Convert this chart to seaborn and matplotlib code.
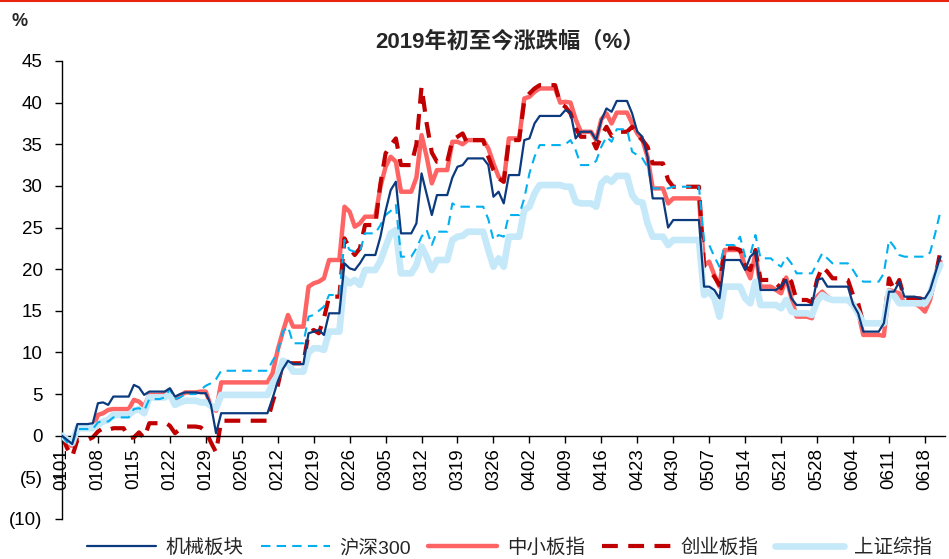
import matplotlib
matplotlib.use('Agg')
import matplotlib.pyplot as plt
import matplotlib.dates as mdates
from matplotlib.lines import Line2D
from matplotlib.ticker import FuncFormatter, MultipleLocator
import seaborn as sns
import pandas as pd

sns.set_style('white')
plt.rcParams['font.family'] = ['Liberation Sans', 'Noto Sans CJK SC', 'DejaVu Sans']

# trading days 2019 (0101 is the base), closed days carry the last close
holidays = ['2019-02-04', '2019-02-05', '2019-02-06', '2019-02-07', '2019-02-08',
            '2019-04-05', '2019-05-01', '2019-05-02', '2019-05-03', '2019-06-07']
trade_days = pd.bdate_range('2019-01-01', '2019-06-21').drop(pd.to_datetime(holidays))

# cumulative change since start of year, %
jixie = [0, -0.5, -1.0, 1.4, 1.5, 3.9, 4.0, 3.7, 4.7, 4.7, 6.1, 5.8, 4.9, 5.3, 5.3, 5.7, 4.7, 5.0, 5.2, 5.1, 5.1, 3.7, 0.3,
         2.7, 4.5, 6.5, 8.0, 9.0, 8.6, 12.3, 12.5, 12.7, 12.1, 14.7, 20.7, 20.1, 19.9, 20.7,
         21.7, 23.9, 27.0, 29.5, 30.5, 24.3, 25.5, 31.5, 29.0, 26.5, 28.9, 31.0, 32.3, 32.5, 33.3, 33.3, 32.5, 28.7, 29.3, 27.9, 31.3,
         35.5, 35.7, 37.5, 38.4, 38.4, 39.1, 38.8, 35.7, 36.5, 35.5, 37.9, 39.3, 38.9, 40.2, 38.7, 36.5, 35.9, 33.5, 28.5, 25.0, 25.9,
         17.9, 17.9, 17.5, 16.5, 21.1, 21.1, 19.9, 21.5, 22.1, 17.5, 17.5, 18.0, 18.7, 16.5, 15.7, 15.7, 18.7, 18.9, 17.9, 17.9,
         17.9, 15.8, 14.7, 12.5, 13.5, 17.3, 17.3, 18.5, 16.7, 16.5, 16.5, 17.5, 19.5, 21.5]
hs300 = [0, -0.8, -1.0, 0.8, 0.8, 1.6, 1.8, 1.7, 2.2, 2.2, 3.2, 3.3, 3.0, 4.4, 4.6, 5.6, 4.4, 4.6, 5.0, 5.5, 6.0, 6.3, 6.8,
         7.8, 9.0, 10.0, 12.5, 13.1, 11.1, 14.3, 14.5, 15.0, 15.5, 16.9, 23.5, 22.3, 22.1, 22.1,
         24.3, 25.3, 26.5, 27.0, 27.7, 21.5, 22.5, 23.9, 24.7, 22.9, 24.5, 27.9, 27.5, 27.5, 27.5, 27.5, 26.0, 23.5, 24.1, 23.9, 26.5,
         28.5, 31.5, 33.5, 34.9, 34.9, 35.0, 35.5, 34.3, 32.5, 33.0, 34.7, 35.9, 35.3, 36.8, 34.1, 33.7, 33.3, 32.3, 29.7, 29.7, 29.9,
         23.5, 22.9, 21.5, 20.3, 22.9, 23.9, 21.5, 21.7, 24.1, 21.3, 20.7, 20.3, 21.5, 20.7, 19.5, 19.5, 20.7, 21.9, 21.3, 20.7,
         20.7, 19.9, 18.9, 18.5, 19.5, 23.5, 22.7, 21.7, 21.5, 21.5, 21.5, 22.0, 24.3, 26.9]
zxb = [0, -1.1, -1.2, 0.9, 0.9, 2.5, 2.7, 3.1, 3.2, 3.2, 4.3, 4.1, 3.5, 4.9, 5.0, 5.5, 4.3, 4.8, 5.2, 5.3, 5.3, 3.5, 3.0,
       6.4, 7.5, 10.3, 12.5, 14.5, 13.1, 17.9, 18.3, 18.5, 18.9, 21.1, 27.5, 26.9, 25.1, 25.5,
       26.3, 29.9, 32.3, 33.5, 32.9, 29.3, 31.0, 36.1, 33.5, 30.3, 31.9, 35.3, 35.3, 35.0, 35.5, 35.5, 34.5, 32.7, 31.1, 30.5, 35.7,
       40.5, 40.7, 41.3, 41.7, 40.0, 40.1, 40.0, 38.0, 36.5, 35.5, 38.0, 38.7, 37.5, 38.8, 37.5, 36.3, 35.5, 33.5, 29.7, 27.9, 28.5,
       20.5, 20.9, 19.3, 17.9, 22.3, 22.3, 20.3, 18.9, 21.9, 17.9, 17.5, 17.1, 19.0, 16.5, 14.3, 14.1, 16.7, 17.3, 16.7, 16.3,
       16.3, 15.9, 14.8, 12.1, 12.0, 17.5, 17.3, 17.1, 15.9, 15.5, 14.9, 16.3, 19.1, 20.9]
cyb = [0, -1.5, -2.5, -0.5, -0.2, 0.5, 0.9, 0.7, 0.9, -0.3, -0.2, 0.4, -0.3, 1.5, 1.6, 1.2, 0.3, 0.8, 1.1, 1.0, 0.5, -0.8, -2.0,
       1.8, 4.0, 6.0, 8.7, 8.7, 8.7, 12.3, 12.7, 12.3, 14.1, 16.7, 23.7, 22.5, 21.7, 22.5,
       25.3, 30.3, 33.9, 34.9, 35.7, 32.5, 35.0, 41.9, 37.5, 34.0, 32.9, 35.5, 35.9, 36.3, 35.0, 35.5, 33.5, 31.9, 30.9, 30.5, 35.5,
       40.3, 41.1, 41.7, 42.1, 39.9, 39.5, 38.7, 36.9, 35.9, 34.5, 36.0, 37.1, 36.0, 36.5, 37.1, 36.1, 35.5, 34.7, 32.7, 30.7, 29.9,
       20.3, 19.9, 19.1, 18.1, 22.5, 22.3, 20.3, 19.9, 22.3, 18.7, 18.3, 17.7, 19.3, 18.5, 16.3, 16.0, 18.7, 20.3, 19.7, 18.9,
       18.7, 16.9, 15.9, 13.5, 13.5, 18.9, 17.5, 18.7, 16.5, 16.5, 16.3, 16.5, 19.0, 22.1]
szzz = [0, -0.5, -0.9, 0.9, 0.9, 1.3, 1.7, 1.9, 2.5, 2.5, 3.0, 3.2, 2.7, 4.6, 4.6, 5.0, 3.7, 4.0, 4.2, 4.0, 4.0, 3.6, 3.3,
        4.9, 6.3, 7.2, 9.0, 8.7, 7.7, 10.0, 10.5, 10.5, 10.3, 12.5, 18.9, 18.3, 18.7, 18.1,
        19.9, 21.0, 22.7, 24.3, 24.7, 19.5, 20.5, 22.7, 21.5, 19.9, 21.1, 23.5, 23.9, 24.0, 24.5, 24.5, 22.3, 20.3, 21.3, 20.3, 23.9,
        27.1, 27.5, 29.1, 30.1, 30.1, 29.9, 29.9, 28.1, 27.9, 27.5, 30.3, 30.9, 30.5, 31.2, 28.9, 28.1, 28.0, 25.5, 23.9, 22.9, 23.5,
        16.9, 17.3, 16.5, 14.3, 17.9, 17.9, 16.5, 15.9, 18.5, 15.7, 15.7, 15.3, 16.3, 14.9, 14.7, 14.5, 16.1, 16.9, 16.5, 16.3,
        16.3, 15.7, 14.7, 13.5, 13.5, 17.3, 16.8, 15.9, 15.9, 15.9, 15.9, 17.0, 19.1, 20.5]

names = ['机械板块', '沪深300', '中小板指', '创业板指', '上证综指']
df = pd.DataFrame(dict(zip(names, [jixie, hs300, zxb, cyb, szzz])), index=trade_days)
df = df.reindex(pd.date_range('2019-01-01', '2019-06-21')).ffill()

styles = {
    '中小板指': dict(color='#FF6464', lw=3.2, z=1, dash=None),
    '创业板指': dict(color='#C00000', lw=3.0, z=2, dash=(3.8, 2.5)),
    '上证综指': dict(color='#C6E9F9', lw=4.8, z=3, dash=None),
    '沪深300': dict(color='#00B0F0', lw=1.5, z=4, dash=(4.5, 3)),
    '机械板块': dict(color='#0B3A7E', lw=1.6, z=5, dash=None),
}

fig = plt.figure(figsize=(9.49, 5.59), dpi=100)
ax = fig.add_axes([0.0653, 0.0716, 0.931, 0.8193])

handles = {}
for name in ['中小板指', '创业板指', '上证综指', '沪深300', '机械板块']:
    st = styles[name]
    sns.lineplot(x=df.index, y=df[name], ax=ax, color=st['color'], linewidth=st['lw'], zorder=st['z'])
    line = ax.get_lines()[-1]
    if st['dash']:
        line.set_dashes(st['dash'])
    handles[name] = Line2D([], [], color=st['color'], lw=st['lw'], dashes=st['dash'] if st['dash'] else (None, None))

ax.set_xlim(pd.Timestamp('2019-01-01'), pd.Timestamp('2019-06-22'))
ax.set_ylim(-10, 45)
ax.yaxis.set_major_locator(MultipleLocator(5))
ax.yaxis.set_major_formatter(FuncFormatter(lambda v, p: f'({abs(int(round(v)))})' if v < 0 else f'{int(round(v))}'))
ax.set_xticks(pd.date_range('2019-01-01', '2019-06-18', freq='7D'))
ax.xaxis.set_major_formatter(mdates.DateFormatter('%m%d'))
ax.set_xlabel('')
ax.set_ylabel('')

ax.spines['top'].set_visible(False)
ax.spines['right'].set_visible(False)
ax.spines['bottom'].set_position(('data', 0))
for s in ['left', 'bottom']:
    ax.spines[s].set_color('black')
    ax.spines[s].set_linewidth(1.0)
ax.tick_params(axis='y', direction='out', length=5, width=1, pad=9, labelsize=13.5, colors='black', left=True)
ax.tick_params(axis='x', direction='out', length=5, width=1, pad=4, labelsize=13.5, colors='black', bottom=True)
for lab in ax.get_xticklabels():
    lab.set_rotation(90)

fig.text(0.537, 0.925, '2019年初至今涨跌幅（%）', ha='center', va='center',
         fontsize=16, fontweight='bold')
fig.text(0.021, 0.961, '%', ha='center', va='center', fontsize=13, fontweight='bold')
fig.add_artist(Line2D([0, 1], [0.998, 0.998], color='#E8250C', lw=1.5, transform=fig.transFigure))

fig.legend([handles[n] for n in names], names, loc='center', bbox_to_anchor=(0.537, 0.02),
           ncol=5, frameon=False, handlelength=3.55, handletextpad=0.5, columnspacing=0.87,
           fontsize=14, borderpad=0.1)

fig.savefig('out.png', dpi=100)
